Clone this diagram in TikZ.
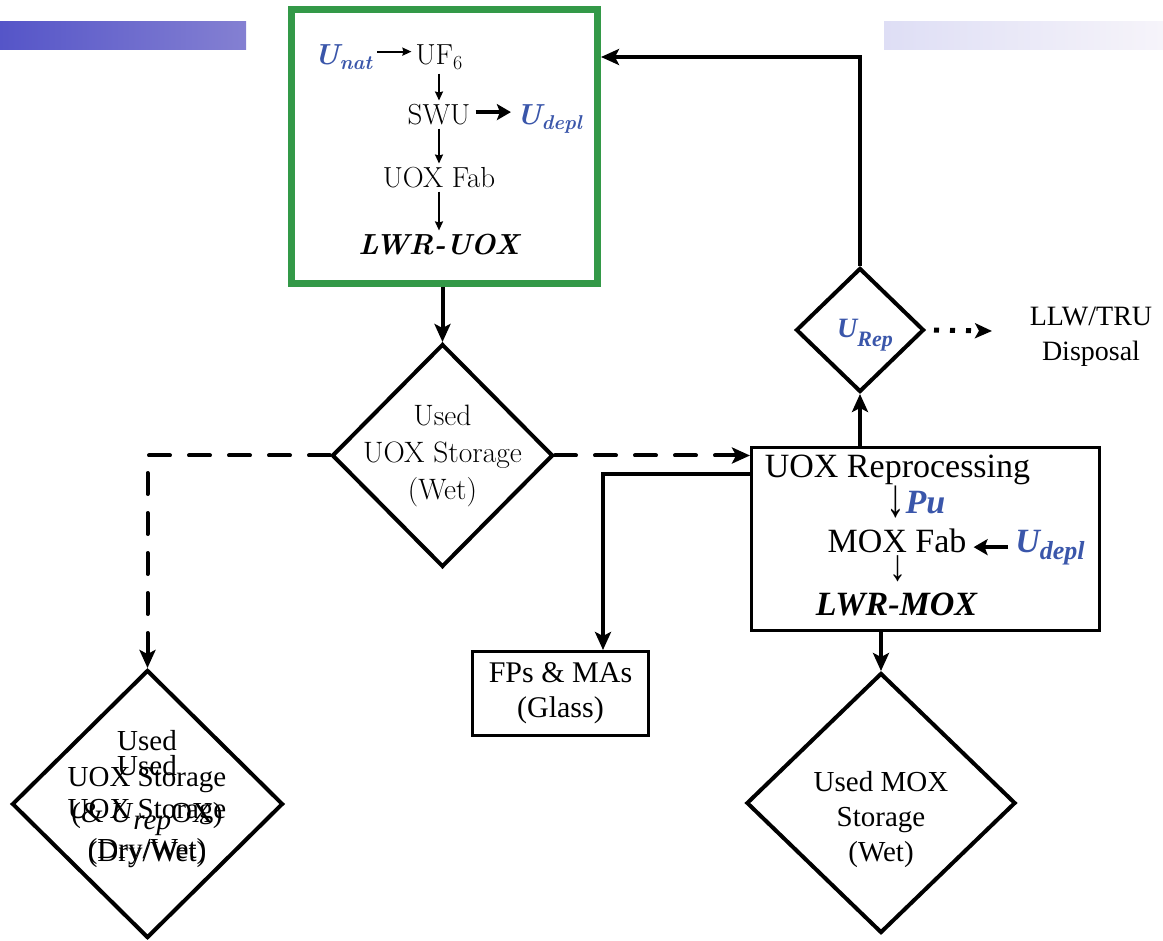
\documentclass[tikz,border=0pt]{standalone}
\usepackage{fontspec}
\newfontfamily\tnr{Liberation Serif}
\usetikzlibrary{arrows.meta,shapes.geometric}
\definecolor{ublue}{RGB}{58,86,170}
\definecolor{gbox}{RGB}{51,153,72}
\definecolor{barLa}{RGB}{85,85,200}
\definecolor{barLb}{RGB}{132,128,210}
\definecolor{barRa}{RGB}{222,222,245}
\definecolor{barRb}{RGB}{246,244,250}
\begin{document}
\begin{tikzpicture}[x=1pt,y=-1pt,
  arr/.style={line width=4pt,-{Stealth[length=18pt,width=16pt,inset=4pt]}},
  dsh/.style={line width=4pt,line cap=round,dash pattern=on 21pt off 19pt,-{Stealth[length=18pt,width=16pt,inset=4pt]}},
  dotarr/.style={line width=5pt,dash pattern=on 5pt off 11pt,-{Stealth[length=17pt,width=15pt,inset=4pt]}},
  sarr/.style={line width=1.8pt,-{Stealth[length=9pt,width=8pt,inset=1pt]}},
  barr/.style={line width=4pt,-{Stealth[length=14pt,width=16pt,inset=3pt]}},
  diam/.style={diamond,draw,line width=4pt,inner sep=0pt},
  boxx/.style={draw,line width=3pt,inner sep=0pt},
  gt/.style={inner sep=1pt,anchor=base,font=\fontsize{29}{32}\selectfont},
  tt/.style={inner sep=1pt,anchor=base,font=\tnr\fontsize{34}{40}\selectfont}]
\useasboundingbox (0,0) rectangle (1163,941);
% gradient bars
\shade[left color=barLa,right color=barLb] (0,22) rectangle (246,50);
\shade[left color=barRa,right color=barRb] (884,22) rectangle (1163,50);

% green box
\node[draw=gbox,line width=7pt,minimum width=306pt,minimum height=274pt,inner sep=0pt] (green) at (444.5,146.5) {};
\node[gt] (unat) at (343,65) {\color{ublue}\bfseries\itshape U\raisebox{-5pt}{\fontsize{20}{22}\selectfont nat}};
\node[gt] (uf6) at (439,65) {UF\raisebox{-5pt}{\fontsize{20}{20}\selectfont 6}};
\node[gt] (swu) at (439,125) {SWU};
\node[gt] (udepla) at (549,125) {\color{ublue}\bfseries\itshape U\raisebox{-5pt}{\fontsize{20}{22}\selectfont depl}};
\node[gt] (uoxfab) at (439,188) {UOX Fab};
\node[gt,font=\fontsize{29}{32}\selectfont\bfseries\itshape] (lwruox) at (439,255) {LWR-UOX};
\draw[sarr,shorten <=4pt,shorten >=3pt] ([yshift=6pt]unat.east) -- ([yshift=6pt]unat.east -| uf6.west);
\draw[sarr,shorten <=2pt,shorten >=3pt] (uf6.south) -- (swu.north);
\draw[barr,shorten <=4pt,shorten >=4pt] ([yshift=3pt]swu.east) -- ([yshift=3pt]swu.east -| udepla.west);
\draw[sarr,shorten <=2pt,shorten >=3pt] (swu.south) -- (uoxfab.north);
\draw[sarr,shorten <=2pt,shorten >=3pt] (uoxfab.south) -- (lwruox.north);

% diamonds
\node[diam,minimum width=221pt,minimum height=223pt] (wet) at (442.5,455.5) {};
\node[align=center,font=\fontsize{29.5}{37}\selectfont] (wett) at (wet) {Used\\UOX Storage\\(Wet)};
\node[diam,minimum width=271pt,minimum height=268pt] (dry) at (147.5,804) {};
\node[align=center,font=\tnr\fontsize{29}{36}\selectfont] (drya) at (147,798) {Used\\UOX Storage\\(\& \textit{U}\raisebox{-7pt}{\itshape rep}OX)\\(Dry/Wet)};
\node[align=center,font=\tnr\fontsize{29}{43}\selectfont] (dryb) at (147,812) {Used\\UOX Storage\\(Dry/Wet)};
\node[diam,minimum width=269pt,minimum height=260pt] (moxs) at (881,803) {};
\node[align=center,font=\tnr\fontsize{29}{35}\selectfont] (moxst) at (881,820) {Used MOX\\Storage\\(Wet)};
\node[diam,minimum width=128pt,minimum height=124pt] (urep) at (860,330) {};
\node[tt,font=\tnr\fontsize{28}{30}\selectfont] (ureptxt) at (865,338) {\color{ublue}\bfseries\itshape U\raisebox{-9pt}{\fontsize{22}{24}\selectfont Rep}};

% reprocessing box
\node[boxx,minimum width=348pt,minimum height=183pt] (rep) at (925.5,539) {};
\node[tt] (reproc) at (897.5,478) {UOX Reprocessing};
\node[tt] (pu) at (916,513) {\raisebox{-3pt}{\scalebox{1.1}[1.6]{↓}}\textcolor{ublue}{\bfseries\itshape Pu}};
\node[tt] (moxfab) at (897,552) {MOX Fab};
\node[tt] (udeplb) at (1050,552) {\color{ublue}\bfseries\itshape U\raisebox{-7pt}{\fontsize{26}{28}\selectfont depl}};
\node[tt] (down) at (898,580) {\scalebox{1}[1.3]{↓}};
\node[tt,font=\tnr\fontsize{34}{40}\selectfont\bfseries\itshape] (lwrmox) at (896.5,615) {LWR-MOX};
\draw[barr,shorten <=6pt,shorten >=6pt] (udeplb.west) -- (udeplb.west -| moxfab.east);

% FP box
\node[boxx,minimum width=176pt,minimum height=84pt] (fp) at (560.5,693.5) {};
\node[align=center,font=\tnr\fontsize{30}{35}\selectfont] (fpt) at (fp) {FPs \& MAs\\(Glass)};

% disposal
\node[align=center,font=\tnr\fontsize{28}{35}\selectfont] (llw) at (1091,337) {LLW/TRU\\Disposal};
\coordinate (dispin) at (992,331);

% connectors
\draw[arr] (green.south -| wet.north) -- (wet.north);
\draw[dsh] (wet.west) -| (dry.north);
\draw[dsh] (wet.east) -- (wet.east -| rep.west);
\draw[arr] ([yshift=65pt]rep.west) -| ([xshift=42.5pt]fp.north);
\draw[arr] (rep.south -| moxs.north) -- (moxs.north);
\draw[arr] (rep.north -| urep.south) -- (urep.south);
\draw[dotarr,shorten <=8pt] (urep.east) -- (dispin);
\draw[arr] (urep.north) |- ([yshift=89.5pt]green.east);
\end{tikzpicture}
\end{document}
